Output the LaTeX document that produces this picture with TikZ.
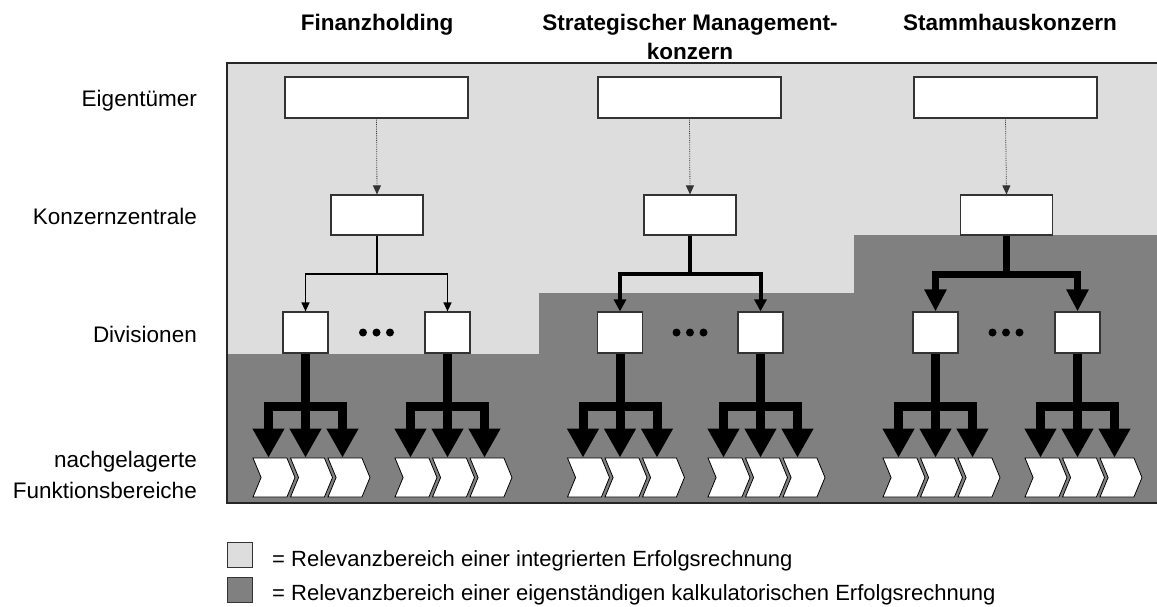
\documentclass[tikz,border=0pt]{standalone}
\usepackage{fontspec}
\setmainfont{Liberation Sans}
\usetikzlibrary{arrows.meta,shapes.symbols}
\definecolor{lightg}{RGB}{221,221,221}
\definecolor{darkg}{RGB}{128,128,128}
\begin{document}
\begin{tikzpicture}[x=1pt,y=-1pt,
  txt/.style={font=\fontsize{22.5}{31}\selectfont, inner sep=0pt},
  lgd/.style={font=\fontsize{22}{28}\selectfont, inner sep=0pt},
  ttl/.style={font=\fontsize{22.5}{29}\selectfont\bfseries, inner sep=0pt, align=center},
  box/.style={draw=black!80, line width=1.2pt, fill=white, inner sep=0pt},
  ownbox/.style={box, minimum width=183pt, minimum height=41pt},
  hqbox/.style={box, minimum width=92pt, minimum height=40pt},
  divbox/.style={box, minimum width=45pt, minimum height=41pt},
  chev/.style={signal, signal to=east, signal from=west, signal pointer angle=135,
    draw=black, line width=0.8pt, fill=white, minimum width=42pt, minimum height=39pt, inner sep=0pt},
  dotarrow/.style={draw=black!80, densely dotted, line width=0.8pt, -{Triangle[width=8pt,length=9pt]}},
  lvA/.style={line width=1.3pt, -{Triangle[width=8pt,length=9pt]}},
  lvAn/.style={line width=1.3pt},
  lvB/.style={line width=4pt, -{Triangle[width=12pt,length=12pt]}},
  lvBn/.style={line width=4pt},
  lvC/.style={line width=7pt, -{Triangle[width=21pt,length=22pt]}},
  lvCn/.style={line width=7pt},
  fat/.style={line width=9pt, -{Triangle[width=30pt,length=29pt]}},
  fatn/.style={line width=9pt},
  dot/.style={circle, fill=black, inner sep=0pt, minimum size=8pt},
  legbox/.style={draw=black!80, line width=1pt, minimum size=25pt, inner sep=0pt}
]
\useasboundingbox (0,0) rectangle (1157,606);

% background areas
\fill[lightg] (227,63) rectangle (1158,503);
\fill[darkg] (227,354) -- (539,354) -- (539,293) -- (854,293) -- (854,235) -- (1158,235) -- (1158,503) -- (227,503) -- cycle;
\draw[draw=black!85, line width=1.3pt] (227,63) rectangle (1158,503);

% titles
\node[ttl, anchor=north] (t1) at (377,13.5) {Finanzholding};
\node[ttl, anchor=north] (t2) at (690,13.5) {Strategischer Management-\\konzern};
\node[ttl, anchor=north] (t3) at (1010,13.5) {Stammhauskonzern};

% row labels
\node[txt, anchor=base east] (r1) at (197,106) {Eigentümer};
\node[txt, anchor=base east] (r2) at (197,224) {Konzernzentrale};
\node[txt, anchor=base east] (r3) at (197,342) {Divisionen};
\node[txt, anchor=north east, align=right] (r4) at (197,450.5) {nachgelagerte\\Funktionsbereiche};

% owners
\node[ownbox] (o1) at (376.5,97.5) {};
\node[ownbox] (o2) at (689.5,97.5) {};
\node[ownbox] (o3) at (1005.5,97.5) {};
% headquarters
\node[hqbox] (k1) at (377,215) {};
\node[hqbox] (k2) at (690,215) {};
\node[hqbox] (k3) at (1006.5,215) {};
% divisions
\node[divbox] (d11) at (305.5,332.5) {};
\node[divbox] (d12) at (447.5,332.5) {};
\node[divbox] (d21) at (620,332.5) {};
\node[divbox] (d22) at (760.5,332.5) {};
\node[divbox] (d31) at (935.5,332.5) {};
\node[divbox] (d32) at (1077.5,332.5) {};

% ellipsis dots
\foreach \c/\n in {376.5/1,690/2,1006/3}{
  \node[dot] (e\n a) at (\c-13.5,332.5) {};
  \node[dot] (e\n b) at (\c,332.5) {};
  \node[dot] (e\n c) at (\c+13.5,332.5) {};
}

% chevrons
\foreach \d in {11,12,21,22,31,32}{
  \path (d\d.center) coordinate (cc\d);
  \node[chev] (ch\d a) at ([xshift=-31.5pt]cc\d |- 0,477.5) {};
  \node[chev] (ch\d b) at ([xshift=6pt]cc\d |- 0,477.5) {};
  \node[chev] (ch\d c) at ([xshift=43.5pt]cc\d |- 0,477.5) {};
}

% owner -> HQ
\foreach \n in {1,2,3}{ \draw[dotarrow] (o\n.south) -- (k\n.north); }

% HQ -> divisions
\draw[lvAn] (k1.south) -- (k1.south |- 0,274) coordinate (j1);
\draw[lvA] (j1) -| (d11.north);
\draw[lvA] (j1) -| (d12.north);
\draw[lvBn] (k2.south) -- (k2.south |- 0,274) coordinate (j2);
\draw[lvB] (j2) -| (d21.north);
\draw[lvB] (j2) -| (d22.north);
\draw[lvCn] (k3.south) -- (k3.south |- 0,274) coordinate (j3);
\draw[lvC] (j3) -| (d31.north);
\draw[lvC] (j3) -| (d32.north);

% divisions -> functions
\foreach \d in {11,12,21,22,31,32}{
  \coordinate (b\d) at (d\d.south |- 0,406);
  \draw[fat] (d\d.south) -- ([xshift=-6pt]ch\d b.north);
  \draw[fat] (b\d) -| ([xshift=-5.5pt]ch\d a.north);
  \draw[fat] (b\d) -| ([xshift=-6.5pt]ch\d c.north);
}

% legend
\node[legbox, fill=lightg] (l1) at (239.5,554.5) {};
\node[legbox, fill=darkg] (l2) at (239.5,589.5) {};
\node[lgd, anchor=base west] (lt1) at (272,566) {= Relevanzbereich einer integrierten Erfolgsrechnung};
\node[lgd, anchor=base west] (lt2) at (272,600) {= Relevanzbereich einer eigenständigen kalkulatorischen Erfolgsrechnung};
\end{tikzpicture}
\end{document}
